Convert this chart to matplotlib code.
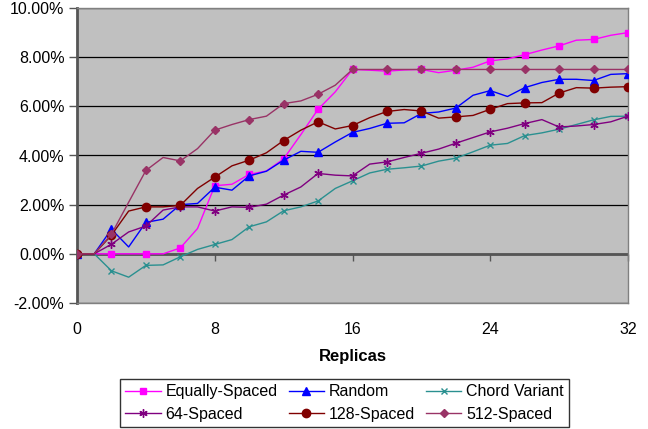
import matplotlib
matplotlib.use('Agg')
import matplotlib.pyplot as plt
from matplotlib.ticker import PercentFormatter

plt.rcParams['font.family'] = ['Liberation Sans', 'DejaVu Sans']
plt.rcParams['axes.unicode_minus'] = False

replicas = list(range(33))

equally = [0, 0, 0, 0, 0, 0, 0.24, 1.03, 2.77, 2.83, 3.23, 3.37, 3.86, 4.85, 5.88, 6.59, 7.50,
           7.47, 7.43, 7.48, 7.50, 7.37, 7.47, 7.59, 7.85, 7.93, 8.10, 8.29, 8.46, 8.69, 8.72, 8.89, 9.00]
random_ = [0, 0, 1.00, 0.28, 1.28, 1.41, 2.00, 2.05, 2.71, 2.59, 3.17, 3.36, 3.81, 4.17, 4.13, 4.55, 4.94,
           5.10, 5.31, 5.33, 5.71, 5.77, 5.93, 6.45, 6.64, 6.40, 6.76, 6.97, 7.10, 7.10, 7.05, 7.30, 7.33]
chord = [0, 0, -0.69, -0.95, -0.47, -0.45, -0.12, 0.18, 0.38, 0.58, 1.10, 1.30, 1.75, 1.91, 2.15, 2.66, 2.97,
         3.29, 3.44, 3.50, 3.57, 3.77, 3.89, 4.15, 4.42, 4.49, 4.81, 4.92, 5.07, 5.26, 5.45, 5.59, 5.60]
spaced64 = [0, 0, 0.39, 0.89, 1.13, 1.78, 1.91, 1.91, 1.74, 1.91, 1.89, 2.02, 2.39, 2.72, 3.27, 3.20, 3.17,
            3.65, 3.74, 3.92, 4.09, 4.26, 4.50, 4.73, 4.96, 5.11, 5.30, 5.46, 5.16, 5.20, 5.26, 5.37, 5.60]
spaced128 = [0, 0, 0.76, 1.74, 1.91, 1.91, 1.97, 2.66, 3.12, 3.58, 3.81, 4.11, 4.61, 5.03, 5.37, 5.08, 5.22,
             5.54, 5.79, 5.87, 5.81, 5.52, 5.57, 5.63, 5.88, 6.11, 6.14, 6.15, 6.54, 6.76, 6.74, 6.78, 6.80]
spaced512 = [0, 0, 0.80, 2.10, 3.39, 3.92, 3.78, 4.28, 5.03, 5.26, 5.46, 5.60, 6.11, 6.22, 6.49, 6.86, 7.50,
             7.50, 7.50, 7.50, 7.50, 7.50, 7.50, 7.50, 7.50, 7.50, 7.50, 7.50, 7.50, 7.50, 7.50, 7.50, 7.50]

series = [
    ('Equally-Spaced', equally, '#FF00FF', 's', 5),
    ('Random', random_, '#0000FF', '^', 6),
    ('Chord Variant', chord, '#2A9090', 'x', 5),
    ('64-Spaced', spaced64, '#800080', (6, 2, 0), 6),
    ('128-Spaced', spaced128, '#800000', 'o', 6),
    ('512-Spaced', spaced512, '#993366', 'D', 4),
]

fig = plt.figure(figsize=(6.48, 4.29), dpi=100)
ax = fig.add_axes([77/648, 1 - 303/429, (628 - 77)/648, (303 - 8)/429])
ax.set_facecolor('#C0C0C0')

lines = {}
for name, vals, col, mk, ms in series:
    l, = ax.plot(replicas, vals, color=col, lw=1, marker=mk, markersize=ms,
                 markevery=2, markeredgewidth=1, label=name, zorder=3)
    lines[name] = l

ax.set_xlim(0, 32)
ax.set_ylim(-2, 10)
ax.set_yticks([-2, 0, 2, 4, 6, 8, 10])
ax.yaxis.set_major_formatter(PercentFormatter(decimals=2))
ax.set_xticks([0, 8, 16, 24, 32])
ax.tick_params(axis='y', length=6, width=1, color='#555555', labelsize=11.5, pad=3)
ax.tick_params(axis='x', length=0, labelsize=11.5, pad=14)
ax.grid(axis='y', color='black', lw=0.9)
ax.set_axisbelow(True)

for s in ['top', 'right', 'bottom']:
    ax.spines[s].set_color('#808080')
    ax.spines[s].set_linewidth(1)
ax.spines['left'].set_color('#555555')
ax.spines['left'].set_linewidth(2)

# x axis crosses at 0%
ax.axhline(0, color='#555555', lw=2, zorder=2)
sec = ax.secondary_xaxis(2/12)
sec.set_xticks([0, 8, 16, 24, 32])
sec.tick_params(axis='x', direction='out', length=5, width=1, color='#555555', labelbottom=False)
sec.spines['bottom'].set_visible(False)

ax.set_xlabel('Replicas', fontsize=12, fontweight='bold', labelpad=8)

order = ['Equally-Spaced', '64-Spaced', 'Random', '128-Spaced', 'Chord Variant', '512-Spaced']
leg = fig.legend([lines[n] for n in order], order, ncol=3, loc='center',
                 bbox_to_anchor=(344.5/648, 1 - 403/429), fontsize=11.5, frameon=True,
                 fancybox=False, edgecolor='black', handlelength=2.2, handletextpad=0.3,
                 columnspacing=0.7, borderpad=0.35, labelspacing=0.45)
leg.get_frame().set_linewidth(1)

fig.savefig('out.png', dpi=100)
